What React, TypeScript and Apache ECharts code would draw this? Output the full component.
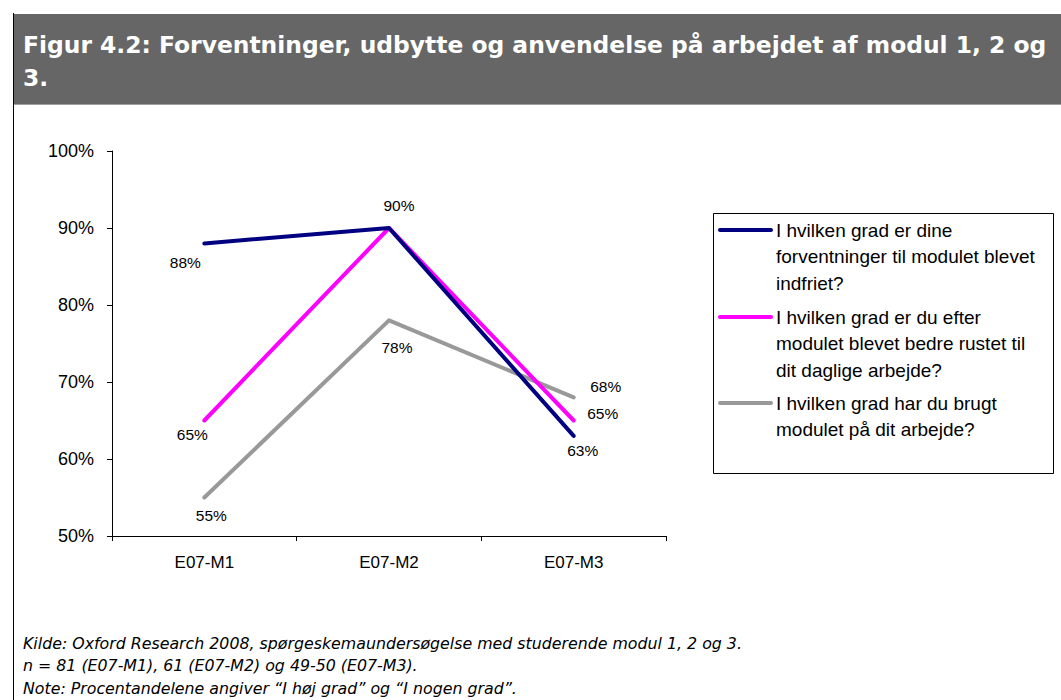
import React, { useEffect, useRef } from "react";
import * as echarts from "echarts";

const categories = ["E07-M1", "E07-M2", "E07-M3"];
const seriesNames = [
  "I hvilken grad er dine\nforventninger til modulet blevet\nindfriet?",
  "I hvilken grad er du efter\nmodulet blevet bedre rustet til\ndit daglige arbejde?",
  "I hvilken grad har du brugt\nmodulet på dit arbejde?",
];
const forventninger = [88, 90, 63];
const rustet = [65, 90, 65];
const brugt = [55, 78, 68];
const yTicks = { min: 50, max: 100, step: 10 };

const titleText =
  "Figur 4.2: Forventninger, udbytte og anvendelse på arbejdet af modul 1, 2 og\n3.";
const footnotes = [
  "Kilde: Oxford Research 2008, spørgeskemaundersøgelse med studerende modul 1, 2 og 3.",
  "n = 81 (E07-M1), 61 (E07-M2) og 49-50 (E07-M3).",
  "Note: Procentandelene angiver \u201cI høj grad\u201d og \u201cI nogen grad\u201d.",
];

const colors = ["#000080", "#FF00FF", "#999999"];
// label offsets (style) per series per point
const labelOffsets = [
  [[-19, 19], [10, -23], [9, 15]],
  [[-12, 14], null, [29, -7]],
  [[7, 18], [8, 27], [32, -11]],
];

const FONT = "'Liberation Sans', Arial, sans-serif";

export default function App() {
  const ref = useRef<HTMLDivElement>(null);
  useEffect(() => {
    if (!ref.current) return;
    const chart = echarts.init(ref.current, undefined, { renderer: "svg" });
    const allData = [forventninger, rustet, brugt];
    const series = allData.map((vals, si) => ({
      type: "line",
      name: seriesNames[si],
      symbol: "circle",
      symbolSize: 1,
      lineStyle: { color: colors[si], width: 4, cap: "round", join: "round" },
      itemStyle: { color: colors[si] },
      z: 3 - si,
      data: vals.map((v, pi) => {
        const off = labelOffsets[si][pi];
        return {
          value: v,
          label: off
            ? {
                show: true,
                position: "inside",
                offset: off,
                formatter: "{c}%",
                color: "#000",
                fontSize: 15.5,
                fontFamily: FONT,
              }
            : { show: false },
        };
      }),
    }));

    const legendGraphics: any[] = [
      {
        type: "rect",
        shape: { x: 713.5, y: 213.5, width: 340, height: 260 },
        style: { fill: "#fff", stroke: "#000", lineWidth: 1 },
      },
    ];
    const legendTops = [217, 304, 390];
    seriesNames.forEach((n, i) => {
      legendGraphics.push({
        type: "line",
        shape: { x1: 720, y1: legendTops[i] + 13, x2: 771, y2: legendTops[i] + 13 },
        style: { stroke: colors[i], lineWidth: 4, lineCap: "round" },
      });
      legendGraphics.push({
        type: "text",
        x: 776,
        y: legendTops[i],
        style: {
          text: n,
          fill: "#000",
          font: `19px ${FONT}`,
          lineHeight: 26.5,
          textVerticalAlign: "top",
        },
      });
    });

    chart.setOption({
      animation: false,
      backgroundColor: "#fff",
      grid: { left: 112, right: 395, top: 151, bottom: 164, containLabel: false },
      xAxis: {
        type: "category",
        data: categories,
        boundaryGap: true,
        axisLine: { show: true, lineStyle: { color: "#000", width: 1 } },
        axisTick: { show: true, length: 5, interval: 0, lineStyle: { color: "#000" } },
        axisLabel: { color: "#000", fontSize: 17, fontFamily: FONT, margin: 18 },
        splitLine: { show: false },
      },
      yAxis: {
        type: "value",
        min: yTicks.min,
        max: yTicks.max,
        interval: yTicks.step,
        axisLine: { show: true, lineStyle: { color: "#000", width: 1 } },
        axisTick: { show: true, length: 5, lineStyle: { color: "#000" } },
        axisLabel: {
          color: "#000",
          fontSize: 18,
          fontFamily: FONT,
          margin: 18,
          formatter: "{value}%",
        },
        splitLine: { show: false },
      },
      series,
      graphic: [
        {
          type: "rect",
          shape: { x: 13, y: 14, width: 1048, height: 90 },
          style: { fill: "#666666" },
          silent: true,
        },
        {
          type: "line",
          shape: { x1: 13, y1: 104.5, x2: 1061, y2: 104.5 },
          style: { stroke: "#a0a0a0", lineWidth: 1 },
        },
        {
          type: "line",
          shape: { x1: 13.5, y1: 13, x2: 13.5, y2: 700 },
          style: { stroke: "#000", lineWidth: 1 },
        },
        {
          type: "text",
          x: 23,
          y: 28,
          style: {
            text: titleText,
            fill: "#fff",
            font: "bold 23.4px 'DejaVu Sans', Verdana, sans-serif",
            lineHeight: 33,
            textVerticalAlign: "top",
          },
        },
        ...legendGraphics,
        ...footnotes.map((t, i) => ({
          type: "text",
          x: 23,
          y: 635 + i * 22.5,
          style: {
            text: t,
            fill: "#000",
            font: "italic 15.8px 'DejaVu Sans', Verdana, sans-serif",
            textVerticalAlign: "top",
          },
        })),
      ],
    });
    return () => chart.dispose();
  }, []);
  return (
    <div
      ref={ref}
      style={{ position: "fixed", left: 0, top: 0, width: 1061, height: 700 }}
    />
  );
}
